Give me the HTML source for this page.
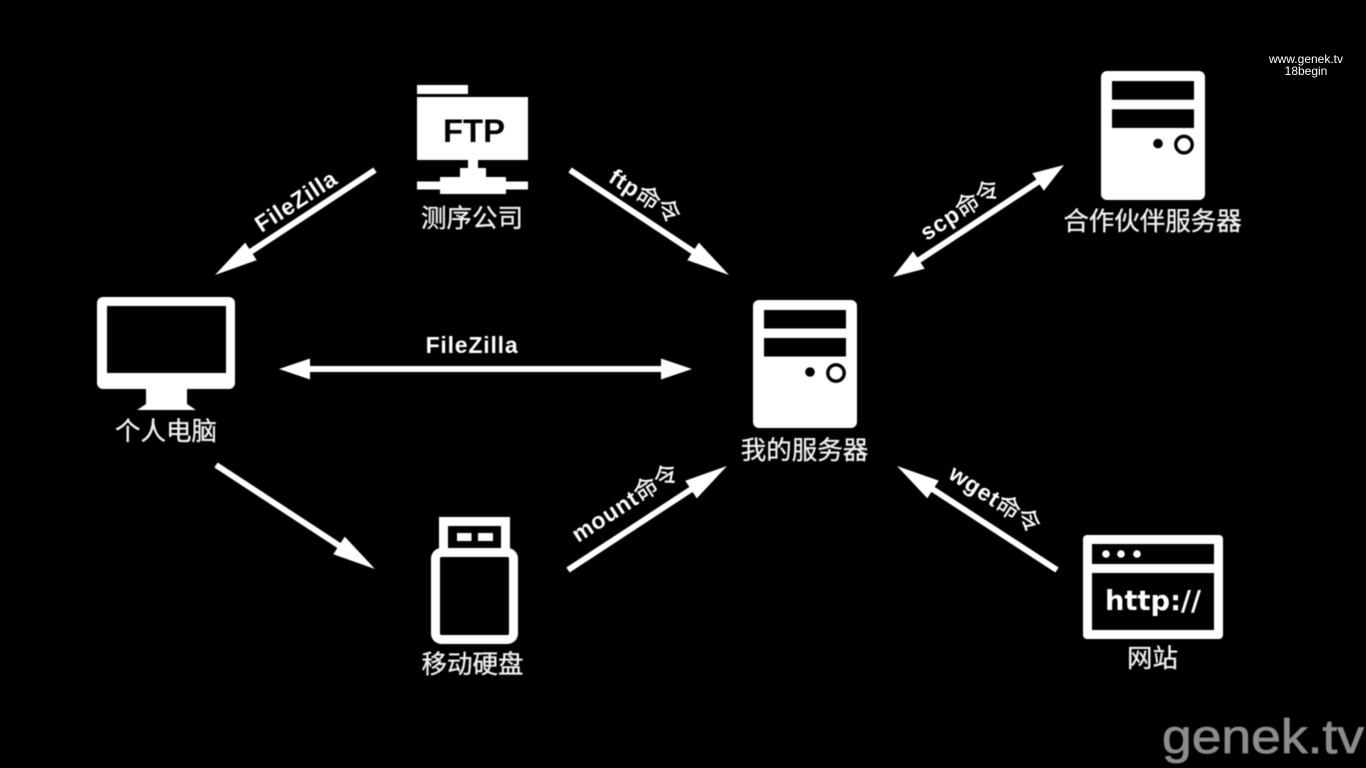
<!DOCTYPE html>
<html lang="zh">
<head>
<meta charset="utf-8">
<title>Diagram</title>
<style>
html,body{margin:0;padding:0;background:#000;width:1366px;height:768px;overflow:hidden}
svg{display:block;position:absolute;left:0;top:0}
.cn{font-family:"Liberation Sans","Noto Sans CJK SC",sans-serif;font-size:25.5px;fill:#f2f2f2;stroke:#f2f2f2;stroke-width:.35px;text-anchor:middle}
.al{font-family:"Liberation Sans","Noto Sans CJK SC",sans-serif;font-size:23px;font-weight:bold;letter-spacing:.8px;fill:#fff;text-anchor:middle}
.al tspan{font-weight:normal;font-size:24px;letter-spacing:0;stroke:#fff;stroke-width:.3px}
.soft{filter:blur(.45px)}
</style>
</head>
<body>
<svg width="1366" height="768" viewBox="0 0 1366 768" xmlns="http://www.w3.org/2000/svg">
<defs>
<g id="srv">
<rect x="0" y="0" width="104" height="128" rx="6" fill="#fff"/>
<rect x="11" y="10" width="82" height="18.5" fill="#000"/>
<rect x="11" y="38" width="82" height="18.5" fill="#000"/>
<circle cx="57" cy="72" r="4.8" fill="#000"/>
<circle cx="83" cy="73" r="8.2" fill="#fff" stroke="#000" stroke-width="3.4"/>
</g>
<polygon id="h" points="0,0 -43,-10.5 -43,10.5" fill="#fff"/>
<polygon id="hs" points="0,0 -31,-10.5 -31,10.5" fill="#fff"/>
</defs>
<rect width="1366" height="768" fill="#000"/>
<g class="soft">
<!-- FTP -->
<rect x="417" y="85" width="51" height="9" fill="#fff"/>
<rect x="417" y="97" width="111" height="63" fill="#fff"/>
<rect x="468" y="160" width="10" height="9" fill="#fff"/>
<rect x="460" y="168" width="26" height="10" fill="#fff"/>
<rect x="440" y="177" width="66" height="17" fill="#fff"/>
<rect x="417" y="181.5" width="111" height="8" fill="#fff"/>
<text x="474" y="142" font-family="Liberation Sans,sans-serif" font-weight="bold" font-size="32" fill="#000" text-anchor="middle" textLength="62" lengthAdjust="spacingAndGlyphs">FTP</text>
<text class="cn" x="472" y="227">测序公司</text>

<!-- Monitor -->
<rect x="97" y="297" width="138" height="92" rx="6" fill="#fff"/>
<rect x="107" y="306" width="119" height="67" fill="#000"/>
<polygon points="146,388 187,388 187,404 196,410 137,410 146,404" fill="#fff"/>
<text class="cn" x="166" y="440">个人电脑</text>

<!-- Server main -->
<use href="#srv" transform="translate(753,300)"/>
<text class="cn" x="804.5" y="459">我的服务器</text>

<!-- Partner server -->
<use href="#srv" transform="translate(1101,71) scale(1,1.008)"/>
<text class="cn" x="1152.5" y="230">合作伙伴服务器</text>

<!-- USB -->
<path fill-rule="evenodd" fill="#fff" d="M439 517H510V550H439Z M448 526V549H501V526Z"/>
<rect x="457" y="533" width="14.5" height="8" fill="#fff"/>
<rect x="478" y="533" width="15" height="8" fill="#fff"/>
<rect x="435.500" y="552.500" width="78" height="87" rx="6" fill="#000" stroke="#fff" stroke-width="9"/>
<text class="cn" x="472.500" y="673">移动硬盘</text>

<!-- Website -->
<rect x="1083" y="535" width="140" height="104" rx="4" fill="#fff"/>
<rect x="1092" y="544" width="122" height="20" fill="#000"/>
<rect x="1092" y="573" width="122" height="57" fill="#000"/>
<circle cx="1106" cy="554" r="3.8" fill="#fff"/>
<circle cx="1121" cy="554" r="3.8" fill="#fff"/>
<circle cx="1137" cy="554" r="3.8" fill="#fff"/>
<text x="1105" y="610" font-family="DejaVu Sans,sans-serif" font-weight="bold" font-size="28" fill="#fff" textLength="96" lengthAdjust="spacingAndGlyphs">http://</text>
<text class="cn" x="1152.500" y="667">网站</text>

<!-- Arrows -->
<g stroke="#fff" stroke-width="6" fill="none">
<line x1="375" y1="170" x2="235" y2="262"/>
<line x1="570" y1="170" x2="709" y2="262"/>
<line x1="300" y1="369" x2="672" y2="369"/>
<line x1="216" y1="465" x2="355" y2="556"/>
<line x1="568" y1="570" x2="707" y2="479"/>
<line x1="913" y1="264" x2="1044" y2="178"/>
<line x1="1057" y1="570" x2="917" y2="479"/>
</g>
<use href="#h" transform="translate(215,275) rotate(146.7)"/>
<use href="#h" transform="translate(729,275) rotate(33.4)"/>
<use href="#hs" transform="translate(692,369)"/>
<use href="#hs" transform="translate(279,369) rotate(180)"/>
<use href="#h" transform="translate(375,569) rotate(33.2)"/>
<use href="#h" transform="translate(727,466) rotate(-33.2)"/>
<use href="#hs" transform="translate(1064,165) rotate(-33.2)"/>
<use href="#hs" transform="translate(893,277) rotate(146.8)"/>
<use href="#h" transform="translate(897,466) rotate(-146.9)"/>

<!-- Arrow labels -->
<text class="al" transform="translate(296,201) rotate(-33) translate(0,8)">FileZilla</text>
<text class="al" transform="translate(645,196) rotate(33) translate(0,8)">ftp<tspan>命令</tspan></text>
<text class="al" x="472" y="353">FileZilla</text>
<text class="al" transform="translate(960,210) rotate(-33) translate(0,8)">scp<tspan>命令</tspan></text>
<text class="al" transform="translate(625,503) rotate(-33) translate(0,8)">mount<tspan>命令</tspan></text>
<text class="al" transform="translate(995,499) rotate(33) translate(0,8)">wget<tspan>命令</tspan></text>

<!-- genek.tv watermark -->
<text x="1162" y="753" font-family="Liberation Sans,sans-serif" font-size="48" fill="#8c8c8c" stroke="#8c8c8c" stroke-width=".8" textLength="202" lengthAdjust="spacingAndGlyphs">genek.tv</text>
</g>
<text x="1306" y="63" font-family="Liberation Sans,sans-serif" font-size="12" fill="#fff" text-anchor="middle">www.genek.tv</text>
<text x="1306" y="75" font-family="Liberation Sans,sans-serif" font-size="12" fill="#fff" text-anchor="middle">18begin</text>
</svg>
</body>
</html>
